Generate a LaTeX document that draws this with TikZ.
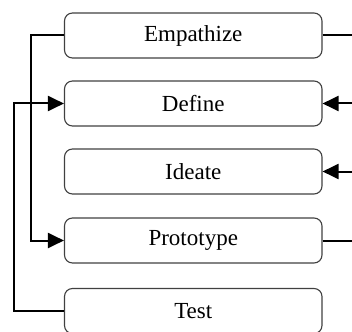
\documentclass[tikz,border=0pt]{standalone}
\usepackage{fontspec}
\setmainfont{Liberation Serif}
\usetikzlibrary{arrows.meta}
\begin{document}
\begin{tikzpicture}[x=1pt,y=-1pt,
  stage/.style={draw=black!75, line width=1.1pt, rounded corners=8pt,
    minimum width=257.5pt, minimum height=45pt, inner sep=0pt,
    font=\fontsize{23}{25}\selectfont},
  link/.style={line width=2pt},
  arr/.style={link, -{Triangle[length=16pt,width=15pt]}},
  rarr/.style={link, {Triangle[length=16pt,width=15pt]}-}]
\useasboundingbox (0,0) rectangle (352,331);
\clip (0,0) rectangle (352,331);
\node[stage] (emp) at (193.25,35.5) {Empathize};
\node[stage] (def) at (193.25,103.5) {Define};
\node[stage] (ide) at (193.25,171.5) {Ideate};
\node[stage] (pro) at (193.25,240.5) {Prototype};
\node[stage] (tes) at (193.25,311) {Test};
\coordinate (l1) at (31,0);
\coordinate (l2) at (13.5,0);
\coordinate (r) at (360,0);
\draw[arr] (emp.west) -- (emp.west -| l1) -- (pro.west -| l1) -- (pro.west);
\draw[arr] (tes.west) -- (tes.west -| l2) -- (def.west -| l2) -- (def.west);
\draw[link] (emp.east) -- (emp.east -| r);
\draw[rarr] (def.east) -- (def.east -| r);
\draw[rarr] (ide.east) -- (ide.east -| r);
\draw[link] (pro.east) -- (pro.east -| r);
\end{tikzpicture}
\end{document}
